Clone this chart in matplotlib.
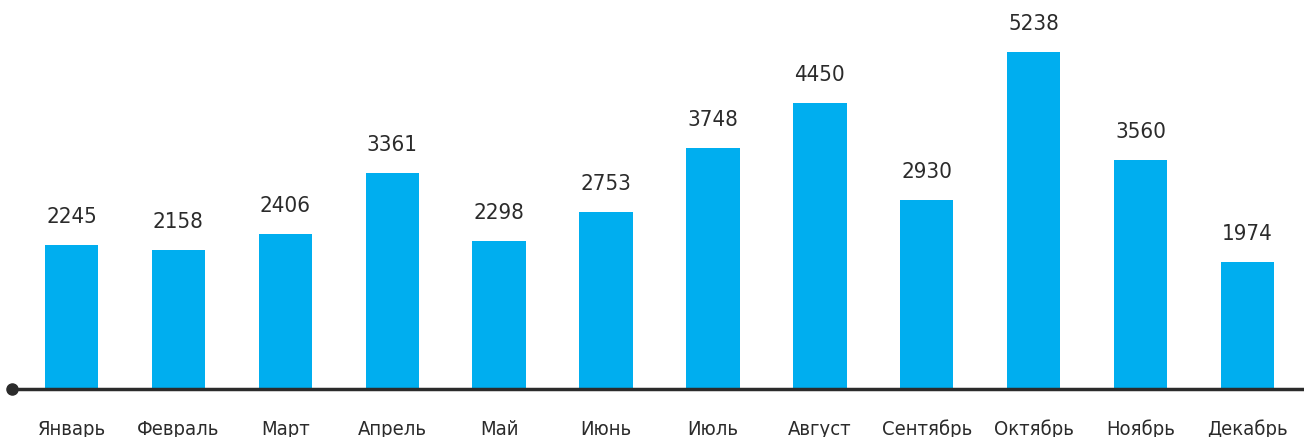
import matplotlib
matplotlib.use('Agg')
import matplotlib.pyplot as plt

months = ['Январь', 'Февраль', 'Март', 'Апрель', 'Май', 'Июнь',
          'Июль', 'Август', 'Сентябрь', 'Октябрь', 'Ноябрь', 'Декабрь']
values = [2245, 2158, 2406, 3361, 2298, 2753, 3748, 4450, 2930, 5238, 3560, 1974]

plt.rcParams['font.family'] = ['DejaVu Sans']
plt.rcParams['font.stretch'] = 'condensed'

fig = plt.figure(figsize=(13.04, 4.37), dpi=100)
ax = fig.add_axes([0, 48 / 437, 1, 389 / 437])

x = list(range(len(months)))
bars = ax.bar(x, values, width=0.5, color='#00AEEF', zorder=2)

# value labels above each bar
for xi, v in zip(x, values):
    ax.annotate(str(v), (xi, v), xytext=(0, 13), textcoords='offset points',
                ha='center', va='bottom', fontsize=16, color='#2b2b2b',
                fontstretch='condensed')

ax.set_xlim(-0.669, 11.529)
ax.set_ylim(0, 6046)

# baseline with dot on the left
ax.plot([-0.557, 11.529], [0, 0], color='#2b2b2b', lw=2.5, zorder=3,
        clip_on=False, solid_capstyle='butt')
ax.plot([-0.557], [0], 'o', color='#2b2b2b', ms=8, zorder=4, clip_on=False)

ax.set_xticks(x)
ax.set_xticklabels(months, fontsize=14.5, color='#2b2b2b', fontstretch='condensed')
ax.tick_params(axis='x', length=0, pad=22)
ax.set_yticks([])
for s in ax.spines.values():
    s.set_visible(False)

fig.savefig('out.png', dpi=100)
